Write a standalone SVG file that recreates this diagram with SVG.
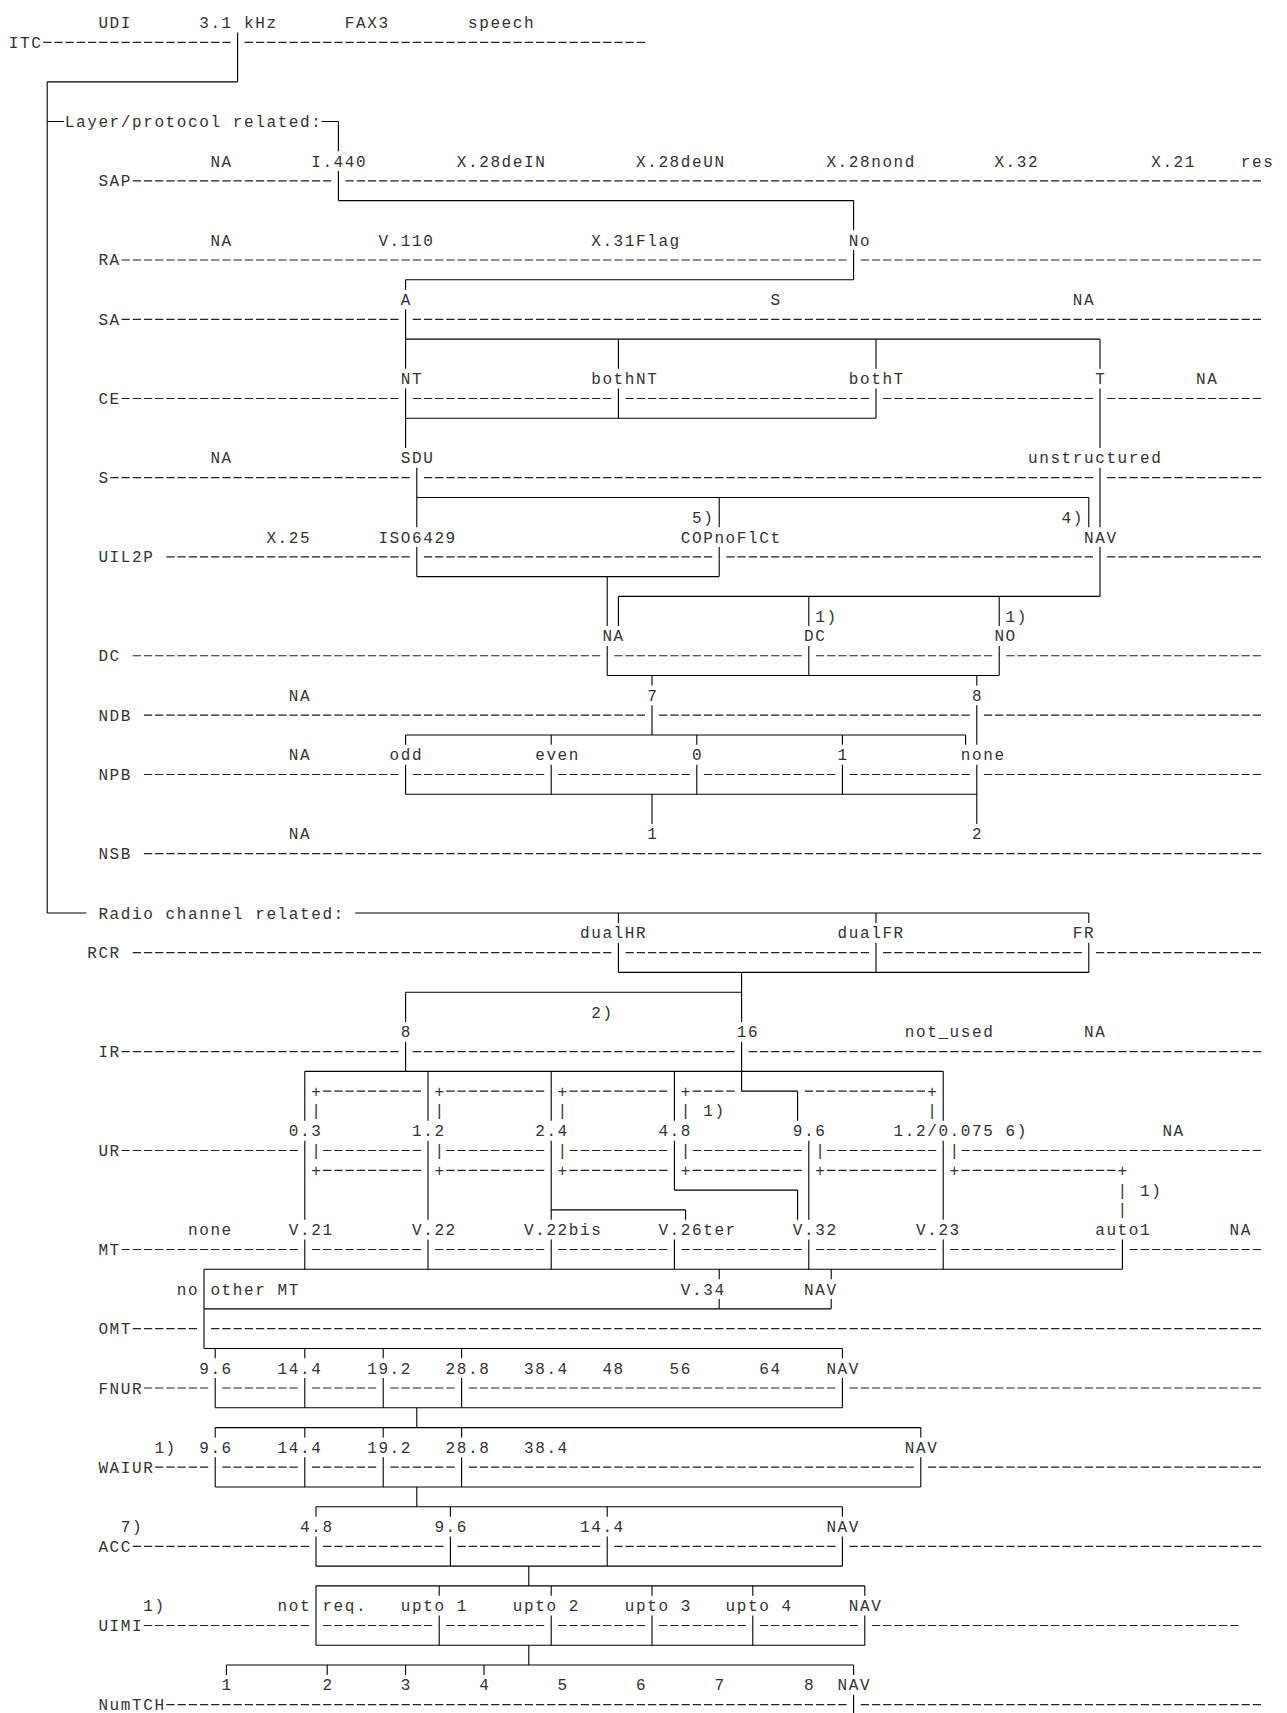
<svg xmlns="http://www.w3.org/2000/svg" width="1287" height="1713" viewBox="0 0 1287 1713">
<style>
.t{font-family:"Liberation Mono","Courier New",monospace;font-size:16px;letter-spacing:1.6px;fill:#333}
.d{fill:none;stroke:#222;stroke-width:0.06;stroke-dasharray:0.741 0.259}
.h{fill:none;stroke:#000;stroke-width:0.0556}
.v{fill:none;stroke:#000;stroke-width:0.0982}
</style>
<rect width="1287" height="1713" fill="#fff"/>

<g id="ITC" class="t">
<text x="98.4" y="28">UDI</text><text x="199.2" y="28">3.1 kHz</text><text x="344.8" y="28">FAX3</text><text x="468" y="28">speech</text>
<text x="8.8" y="47.79">ITC</text>
<path class="d" transform="translate(8 22.5) scale(11.2 19.79)" d="M3.134 1H19.875M21.134 1H56.875"/>
</g>

<g id="layer-heading" class="t"><text x="64.8" y="126.95">Layer/protocol related:</text></g>

<g id="SAP" class="t">
<text x="210.4" y="166.53">NA</text><text x="311.2" y="166.53">I.440</text><text x="456.8" y="166.53">X.28deIN</text><text x="636" y="166.53">X.28deUN</text><text x="826.4" y="166.53">X.28nond</text><text x="994.4" y="166.53">X.32</text><text x="1151.2" y="166.53">X.21</text><text x="1240.8" y="166.53">res</text>
<text x="98.4" y="186.32">SAP</text>
<path class="d" transform="translate(8 22.5) scale(11.2 19.79)" d="M11.134 8H28.875M30.134 8H111.875"/>
</g>

<g id="RA" class="t">
<text x="210.4" y="245.69">NA</text><text x="378.4" y="245.69">V.110</text><text x="591.2" y="245.69">X.31Flag</text><text x="848.8" y="245.69">No</text>
<text x="98.4" y="265.48">RA</text>
<path class="d" transform="translate(8 22.5) scale(11.2 19.79)" d="M10.134 12H74.875M76.134 12H111.875"/>
</g>

<g id="SA" class="t">
<text x="400.8" y="305.06">A</text><text x="770.4" y="305.06">S</text><text x="1072.8" y="305.06">NA</text>
<text x="98.4" y="324.85">SA</text>
<path class="d" transform="translate(8 22.5) scale(11.2 19.79)" d="M10.134 15H34.875M36.134 15H111.875"/>
</g>

<g id="CE" class="t">
<text x="400.8" y="384.22">NT</text><text x="591.2" y="384.22">bothNT</text><text x="848.8" y="384.22">bothT</text><text x="1095.2" y="384.22">T</text><text x="1196" y="384.22">NA</text>
<text x="98.4" y="404.01">CE</text>
<path class="d" transform="translate(8 22.5) scale(11.2 19.79)" d="M10.134 19H34.875M36.134 19H53.875M55.134 19H76.875M78.134 19H96.875M98.134 19H111.875"/>
</g>

<g id="S" class="t">
<text x="210.4" y="463.38">NA</text><text x="400.8" y="463.38">SDU</text><text x="1028" y="463.38">unstructured</text>
<text x="98.4" y="483.17">S</text>
<path class="d" transform="translate(8 22.5) scale(11.2 19.79)" d="M9.134 23H35.875M37.134 23H96.875M98.134 23H111.875"/>
</g>

<g id="UIL2P" class="t">
<text x="692" y="522.75">5)</text><text x="1061.6" y="522.75">4)</text>
<text x="266.4" y="542.54">X.25</text><text x="378.4" y="542.54">ISO6429</text><text x="680.8" y="542.54">COPnoFlCt</text><text x="1084" y="542.54">NAV</text>
<text x="98.4" y="562.33">UIL2P</text>
<path class="d" transform="translate(8 22.5) scale(11.2 19.79)" d="M14.134 27H35.875M37.134 27H62.875M64.134 27H96.875M98.134 27H111.875"/>
</g>

<g id="DC" class="t">
<text x="815.2" y="621.7">1)</text><text x="1005.6" y="621.7">1)</text>
<text x="602.4" y="641.49">NA</text><text x="804" y="641.49">DC</text><text x="994.4" y="641.49">NO</text>
<text x="98.4" y="661.28">DC</text>
<path class="d" transform="translate(8 22.5) scale(11.2 19.79)" d="M11.134 32H52.875M54.134 32H70.875M72.134 32H87.875M89.134 32H111.875"/>
</g>

<g id="NDB" class="t">
<text x="288.8" y="700.86">NA</text><text x="647.2" y="700.86">7</text><text x="972" y="700.86">8</text>
<text x="98.4" y="720.65">NDB</text>
<path class="d" transform="translate(8 22.5) scale(11.2 19.79)" d="M12.134 35H56.875M58.134 35H85.875M87.134 35H111.875"/>
</g>

<g id="NPB" class="t">
<text x="288.8" y="760.23">NA</text><text x="389.6" y="760.23">odd</text><text x="535.2" y="760.23">even</text><text x="692" y="760.23">0</text><text x="837.6" y="760.23">1</text><text x="960.8" y="760.23">none</text>
<text x="98.4" y="780.02">NPB</text>
<path class="d" transform="translate(8 22.5) scale(11.2 19.79)" d="M12.134 38H34.875M36.134 38H47.875M49.134 38H60.875M62.134 38H73.875M75.134 38H85.875M87.134 38H111.875"/>
</g>

<g id="NSB" class="t">
<text x="288.8" y="839.39">NA</text><text x="647.2" y="839.39">1</text><text x="972" y="839.39">2</text>
<text x="98.4" y="859.18">NSB</text>
<path class="d" transform="translate(8 22.5) scale(11.2 19.79)" d="M12.134 42H111.875"/>
</g>

<g id="radio-heading" class="t"><text x="98.4" y="918.55">Radio channel related:</text></g>

<g id="RCR" class="t">
<text x="580" y="938.34">dualHR</text><text x="837.6" y="938.34">dualFR</text><text x="1072.8" y="938.34">FR</text>
<text x="87.2" y="958.13">RCR</text>
<path class="d" transform="translate(8 22.5) scale(11.2 19.79)" d="M11.134 47H53.875M55.134 47H76.875M78.134 47H95.875M97.134 47H111.875"/>
</g>

<g id="IR" class="t">
<text x="591.2" y="1017.5">2)</text>
<text x="400.8" y="1037.29">8</text><text x="736.8" y="1037.29">16</text><text x="904.8" y="1037.29">not_used</text><text x="1084" y="1037.29">NA</text>
<text x="98.4" y="1057.08">IR</text>
<path class="d" transform="translate(8 22.5) scale(11.2 19.79)" d="M10.134 52H34.875M36.134 52H64.875M66.134 52H111.875"/>
</g>

<g id="UR" class="t">
<text x="288.8" y="1136.24">0.3</text><text x="412" y="1136.24">1.2</text><text x="535.2" y="1136.24">2.4</text><text x="658.4" y="1136.24">4.8</text><text x="792.8" y="1136.24">9.6</text><text x="893.6" y="1136.24">1.2/0.075 6)</text><text x="1162.4" y="1136.24">NA</text>
<text x="98.4" y="1156.03">UR</text>
<path class="d" transform="translate(8 22.5) scale(11.2 19.79)" d="M10.134 57H25.875M28.134 57H36.875M39.134 57H47.875M50.134 57H58.875M61.134 57H70.875M73.134 57H82.875M85.134 57H111.875"/>
</g>

<g id="UR-brackets" class="t">
<text x="311.2" y="1096.66">+</text><text x="434.4" y="1096.66">+</text><text x="557.6" y="1096.66">+</text><text x="680.8" y="1096.66">+</text><text x="927.2" y="1096.66">+</text>
<text x="311.2" y="1116.45">|</text><text x="434.4" y="1116.45">|</text><text x="557.6" y="1116.45">|</text><text x="680.8" y="1116.45">|</text><text x="703.2" y="1116.45">1)</text><text x="927.2" y="1116.45">|</text>
<text x="311.2" y="1156.03">|</text><text x="434.4" y="1156.03">|</text><text x="557.6" y="1156.03">|</text><text x="680.8" y="1156.03">|</text><text x="815.2" y="1156.03">|</text><text x="949.6" y="1156.03">|</text>
<text x="311.2" y="1175.82">+</text><text x="434.4" y="1175.82">+</text><text x="557.6" y="1175.82">+</text><text x="680.8" y="1175.82">+</text><text x="815.2" y="1175.82">+</text><text x="949.6" y="1175.82">+</text><text x="1117.6" y="1175.82">+</text>
<text x="1117.6" y="1195.61">|</text><text x="1140" y="1195.61">1)</text>
<text x="1117.6" y="1215.4">|</text>
<path class="d" transform="translate(8 22.5) scale(11.2 19.79)" d="M28.134 54H36.875M39.134 54H47.875M50.134 54H58.875M61.134 54H64.875M71.134 54H81.875M28.134 58H36.875M39.134 58H47.875M50.134 58H58.875M61.134 58H70.875M73.134 58H82.875M85.134 58H98.875"/>
</g>

<g id="MT" class="t">
<text x="188" y="1235.19">none</text><text x="288.8" y="1235.19">V.21</text><text x="412" y="1235.19">V.22</text><text x="524" y="1235.19">V.22bis</text><text x="658.4" y="1235.19">V.26ter</text><text x="792.8" y="1235.19">V.32</text><text x="916" y="1235.19">V.23</text><text x="1095.2" y="1235.19">auto1</text><text x="1229.6" y="1235.19">NA</text>
<text x="98.4" y="1254.98">MT</text>
<path class="d" transform="translate(8 22.5) scale(11.2 19.79)" d="M10.134 62H25.875M27.134 62H36.875M38.134 62H47.875M49.134 62H58.875M60.134 62H70.875M72.134 62H82.875M84.134 62H98.875M100.134 62H111.875"/>
</g>

<g id="OMT" class="t">
<text x="176.8" y="1294.56">no other MT</text><text x="680.8" y="1294.56">V.34</text><text x="804" y="1294.56">NAV</text>
<text x="98.4" y="1334.14">OMT</text>
<path class="d" transform="translate(8 22.5) scale(11.2 19.79)" d="M11.134 66H16.875M18.134 66H111.875"/>
</g>

<g id="FNUR" class="t">
<text x="199.2" y="1373.72">9.6</text><text x="277.6" y="1373.72">14.4</text><text x="367.2" y="1373.72">19.2</text><text x="445.6" y="1373.72">28.8</text><text x="524" y="1373.72">38.4</text><text x="602.4" y="1373.72">48</text><text x="669.6" y="1373.72">56</text><text x="759.2" y="1373.72">64</text><text x="826.4" y="1373.72">NAV</text>
<text x="98.4" y="1393.51">FNUR</text>
<path class="d" transform="translate(8 22.5) scale(11.2 19.79)" d="M12.134 69H17.875M19.134 69H25.875M27.134 69H32.875M34.134 69H39.875M41.134 69H73.875M75.134 69H111.875"/>
</g>

<g id="WAIUR" class="t">
<text x="154.4" y="1452.88">1)</text><text x="199.2" y="1452.88">9.6</text><text x="277.6" y="1452.88">14.4</text><text x="367.2" y="1452.88">19.2</text><text x="445.6" y="1452.88">28.8</text><text x="524" y="1452.88">38.4</text><text x="904.8" y="1452.88">NAV</text>
<text x="98.4" y="1472.67">WAIUR</text>
<path class="d" transform="translate(8 22.5) scale(11.2 19.79)" d="M13.134 73H17.875M19.134 73H25.875M27.134 73H32.875M34.134 73H39.875M41.134 73H80.875M82.134 73H111.875"/>
</g>

<g id="ACC" class="t">
<text x="120.8" y="1532.04">7)</text><text x="300" y="1532.04">4.8</text><text x="434.4" y="1532.04">9.6</text><text x="580" y="1532.04">14.4</text><text x="826.4" y="1532.04">NAV</text>
<text x="98.4" y="1551.83">ACC</text>
<path class="d" transform="translate(8 22.5) scale(11.2 19.79)" d="M11.134 77H26.875M28.134 77H38.875M40.134 77H52.875M54.134 77H73.875M75.134 77H111.875"/>
</g>

<g id="UIMI" class="t">
<text x="143.2" y="1611.2">1)</text><text x="277.6" y="1611.2">not req.</text><text x="400.8" y="1611.2">upto 1</text><text x="512.8" y="1611.2">upto 2</text><text x="624.8" y="1611.2">upto 3</text><text x="725.6" y="1611.2">upto 4</text><text x="848.8" y="1611.2">NAV</text>
<text x="98.4" y="1630.99">UIMI</text>
<path class="d" transform="translate(8 22.5) scale(11.2 19.79)" d="M12.134 81H26.875M28.134 81H37.875M39.134 81H47.875M49.134 81H56.875M58.134 81H65.875M67.134 81H75.875M77.134 81H109.875"/>
</g>

<g id="NumTCH" class="t">
<text x="221.6" y="1690.36">1</text><text x="322.4" y="1690.36">2</text><text x="400.8" y="1690.36">3</text><text x="479.2" y="1690.36">4</text><text x="557.6" y="1690.36">5</text><text x="636" y="1690.36">6</text><text x="714.4" y="1690.36">7</text><text x="804" y="1690.36">8</text><text x="837.6" y="1690.36">NAV</text>
<text x="98.4" y="1710.15">NumTCH</text>
<path class="d" transform="translate(8 22.5) scale(11.2 19.79)" d="M14.134 85H74.875M76.134 85H111.875"/>
</g>

<g id="connectors" transform="translate(8 22.5) scale(11.2 19.79)">
<path class="h" d="M3.5 3H20.5M3.5 5H5M28 5H29.5M29.5 9H75.5M35.5 13H75.5M35.5 16H97.5M35.5 20H77.5M36.5 24H96.5M36.5 28H63.5M54.5 29H97.5M53.5 33H88.5M35.5 36H85.5M35.5 39H86.5M3.5 45H7M31 45H96.5M54.5 48H96.5M35.5 49H65.5M26.5 53H83.5M65.5 54H70.5M59.5 59H70.5M48.5 60H60.5M17.5 63H99.5M17.5 65H73.5M17.5 67H74.5M18.5 70H74.5M18.5 71H81.5M18.5 74H81.5M27.5 75H74.5M27.5 78H74.5M27.5 79H76.5M27.5 82H76.5M19.5 83H75.5"/>
<path class="v" d="M3.5 3V45M20.5 0.5V3M29.5 5V6.5M29.5 7.5V9M75.5 9V10.5M75.5 11.5V13M35.5 13V13.5M35.5 14.5V17.5M35.5 18.5V21.5M54.5 16V17.5M54.5 18.5V20M77.5 16V17.5M77.5 18.5V20M97.5 16V17.5M97.5 18.5V21.5M97.5 22.5V25.5M97.5 26.5V29M36.5 22.5V25.5M36.5 26.5V28M63.5 24V25.5M63.5 26.5V28M96.5 24V25.5M53.5 28V30.5M53.5 31.5V33M54.5 29V30.5M71.5 29V30.5M71.5 31.5V33M88.5 29V30.5M88.5 31.5V33M57.5 33V33.5M57.5 34.5V36M57.5 39V40.5M86.5 33V33.5M86.5 34.5V36.5M86.5 37.5V40.5M35.5 36V36.5M35.5 37.5V39M48.5 36V36.5M48.5 37.5V39M61.5 36V36.5M61.5 37.5V39M74.5 36V36.5M74.5 37.5V39M85.5 36V36.5M54.5 45V45.5M54.5 46.5V48M77.5 45V45.5M77.5 46.5V48M96.5 45V45.5M96.5 46.5V48M65.5 48V50.5M65.5 51.5V54M35.5 49V50.5M35.5 51.5V53M26.5 53V55.5M26.5 56.5V60.5M26.5 61.5V63M37.5 53V55.5M37.5 56.5V60.5M37.5 61.5V63M48.5 53V55.5M48.5 56.5V60.5M48.5 61.5V63M59.5 53V55.5M59.5 56.5V59M59.5 61.5V63M60.5 60V60.5M70.5 54V55.5M70.5 59V60.5M71.5 56.5V60.5M71.5 61.5V63M83.5 53V55.5M83.5 56.5V60.5M83.5 61.5V63M99.5 61.5V63M17.5 63V67M63.5 63V63.5M63.5 64.5V65M73.5 63V63.5M73.5 64.5V65M18.5 67V67.5M18.5 68.5V70M18.5 71V71.5M18.5 72.5V74M26.5 67V67.5M26.5 68.5V70M26.5 71V71.5M26.5 72.5V74M33.5 67V67.5M33.5 68.5V70M33.5 71V71.5M33.5 72.5V74M40.5 67V67.5M40.5 68.5V70M40.5 71V71.5M40.5 72.5V74M74.5 67V67.5M74.5 68.5V70M36.5 70V71M36.5 74V75M81.5 71V71.5M81.5 72.5V74M27.5 75V75.5M27.5 76.5V78M27.5 79V82M39.5 75V75.5M39.5 76.5V78M53.5 75V75.5M53.5 76.5V78M74.5 75V75.5M74.5 76.5V78M46.5 78V79M46.5 82V83M38.5 79V79.5M38.5 80.5V82M48.5 79V79.5M48.5 80.5V82M57.5 79V79.5M57.5 80.5V82M66.5 79V79.5M66.5 80.5V82M76.5 79V79.5M76.5 80.5V82M19.5 83V83.5M28.5 83V83.5M35.5 83V83.5M42.5 83V83.5M75.5 83V83.5M75.5 84.5V86"/>
</g>
</svg>
